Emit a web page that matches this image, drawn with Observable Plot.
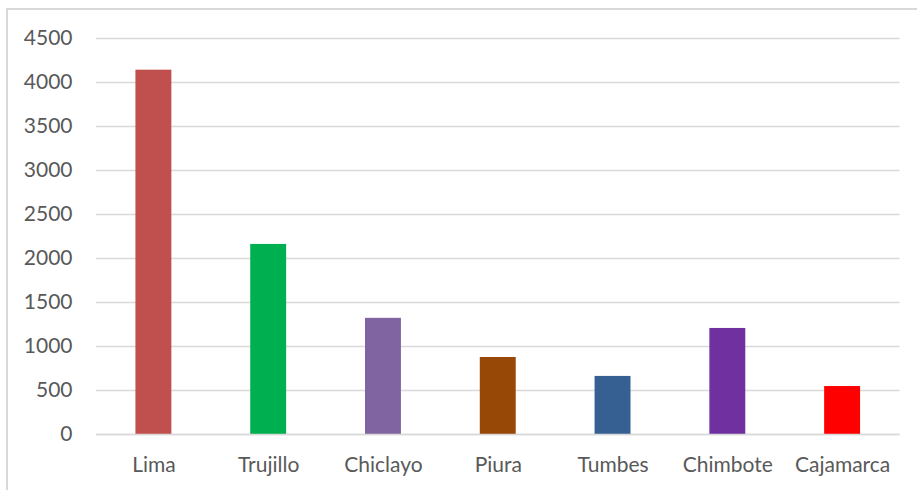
<!DOCTYPE html>
<html>
<head>
<meta charset="utf-8">
<script src="https://cdn.jsdelivr.net/npm/d3@7"></script>
<script src="https://cdn.jsdelivr.net/npm/@observablehq/plot@0.6"></script>
<style>
  html, body { margin: 0; padding: 0; background: #fff; }
  #wrap { position: relative; width: 917px; height: 490px; overflow: hidden; }
  #frame { position: absolute; left: 6px; top: 8px; width: 1000px; height: 600px;
           border-left: 2px solid #d9d9d9; border-top: 2px solid #d9d9d9; }
  #chart { position: absolute; left: 0; top: 0; }
</style>
</head>
<body>
<div id="wrap"><div id="frame"></div><div id="chart"></div></div>
<script>
const cities = ["Lima", "Trujillo", "Chiclayo", "Piura", "Tumbes", "Chimbote", "Cajamarca"];
const values = [4140, 2160, 1320, 875, 660, 1205, 545];
const colors = ["#c0504d", "#00b050", "#8064a2", "#974706", "#366092", "#7030a0", "#ff0000"];
const yTicks = [0, 500, 1000, 1500, 2000, 2500, 3000, 3500, 4000, 4500];

const data = cities.map((c, i) => ({city: c, value: values[i]}));

const chart = Plot.plot({
  width: 917,
  height: 490,
  marginLeft: 96,
  marginRight: 17.5,
  marginTop: 38,
  marginBottom: 56,
  style: {fontFamily: "Lato, sans-serif", fontSize: "21px", color: "#595959", background: "transparent"},
  x: {domain: cities, paddingInner: 0.687, paddingOuter: 0.3435, round: false, label: null, tickSize: 0, tickPadding: 23},
  y: {domain: [0, 4500], ticks: yTicks, label: null, tickSize: 0, tickPadding: 24, tickFormat: d => String(d)},
  color: {domain: cities, range: colors},
  marks: [
    Plot.gridY(yTicks, {stroke: "#d9d9d9", strokeOpacity: 1, strokeWidth: 1.5}),
    Plot.barY(data, {x: "city", y: "value", fill: "city"}),
    Plot.ruleY([0], {stroke: "#d9d9d9", strokeWidth: 1.5}),
    Plot.axisX({tickSize: 0, tickPadding: 23, fill: "#595959"}),
    Plot.axisY({ticks: yTicks, tickSize: 0, tickPadding: 24, fill: "#595959", tickFormat: d => String(d)})
  ]
});
document.getElementById("chart").appendChild(chart);
</script>
</body>
</html>
